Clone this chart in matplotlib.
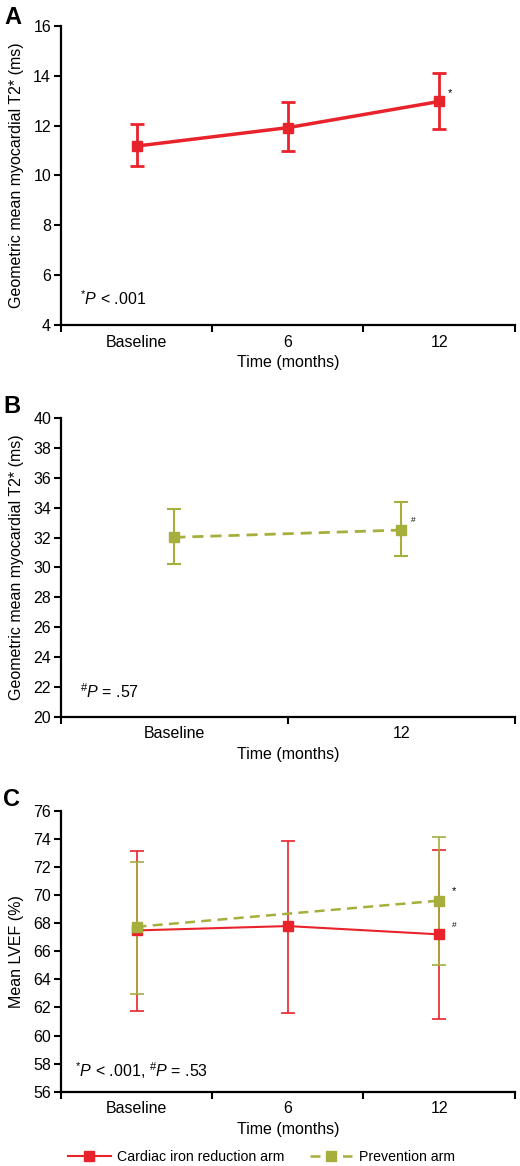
import matplotlib.pyplot as plt
from matplotlib.lines import Line2D
import numpy as np

plt.rcParams['font.family'] = ['Liberation Sans', 'DejaVu Sans']
plt.rcParams['mathtext.fontset'] = 'custom'
plt.rcParams['mathtext.rm'] = 'Liberation Sans'
plt.rcParams['mathtext.it'] = 'Liberation Sans:italic'

RED = '#e8232b'
GREEN = '#a6ae3c'
FS = 11.5

# Panel A: cardiac iron reduction arm, T2*
a_labels = ['Baseline', '6', '12']
a_mean = [11.18, 11.92, 12.97]
a_low = [10.38, 10.98, 11.86]
a_high = [12.05, 12.93, 14.13]

# Panel B: prevention arm, T2*
b_labels = ['Baseline', '12']
b_mean = [32.02, 32.51]
b_low = [30.26, 30.75]
b_high = [33.92, 34.41]

# Panel C: LVEF, both arms
c_labels = ['Baseline', '6', '12']
c_red_mean = [67.48, 67.79, 67.20]
c_red_low = [61.72, 61.60, 61.15]
c_red_high = [73.15, 73.86, 73.20]
c_green_x = [0, 2]
c_green_mean = [67.74, 69.60]
c_green_low = [62.95, 65.04]
c_green_high = [72.35, 74.10]

DASH = (0, (4, 2.5))


def style_axes(ax, labels, ylim, yticks, ylabel):
    n = len(labels)
    ax.set_xlim(0, n)
    ax.set_ylim(*ylim)
    ax.set_xticks(np.arange(n + 1))
    ax.set_xticklabels([])
    ax.set_xticks(np.arange(n) + 0.5, minor=True)
    ax.set_xticklabels(labels, minor=True)
    ax.tick_params(axis='x', which='major', direction='out', length=5, width=1.5)
    ax.tick_params(axis='x', which='minor', length=0, pad=7, labelsize=FS)
    ax.set_yticks(yticks)
    ax.tick_params(axis='y', direction='out', length=5, width=1.5, pad=2, labelsize=FS)
    for s in ['top', 'right']:
        ax.spines[s].set_visible(False)
    for s in ['left', 'bottom']:
        ax.spines[s].set_linewidth(1.6)
    ax.set_xlabel('Time (months)', fontsize=FS, labelpad=4)
    ax.set_ylabel(ylabel, fontsize=FS, labelpad=7)


def yerr(mean, low, high):
    m = np.array(mean)
    return [m - np.array(low), np.array(high) - m]


fig = plt.figure(figsize=(5.2, 11.66), dpi=100)
axA = fig.add_axes([0.117, 0.7213, 0.873, 0.2564])
axB = fig.add_axes([0.117, 0.3853, 0.873, 0.2560])
axC = fig.add_axes([0.117, 0.0637, 0.873, 0.2410])

# Panel A
xa = np.arange(len(a_labels)) + 0.5
axA.errorbar(xa, a_mean, yerr=yerr(a_mean, a_low, a_high), color=RED, lw=2.5,
             marker='s', ms=7, elinewidth=2, capsize=5, capthick=2)
style_axes(axA, a_labels, (4, 16), np.arange(4, 17, 2),
           'Geometric mean myocardial T2* (ms)')
axA.annotate('*', (xa[2], a_mean[2]), xytext=(6, 4), textcoords='offset points',
             fontsize=8)
axA.text(0.042, 0.087, r'$^{*}\mathit{P}$ < .001', transform=axA.transAxes,
         fontsize=FS, va='center')

# Panel B
xb = np.arange(len(b_labels)) + 0.5
axB.errorbar(xb, b_mean, yerr=yerr(b_mean, b_low, b_high), color=GREEN, lw=2,
             ls=DASH, marker='s', ms=7, elinewidth=1.5, capsize=5, capthick=1.5)
style_axes(axB, b_labels, (20, 40), np.arange(20, 41, 2),
           'Geometric mean myocardial T2* (ms)')
axB.annotate('#', (xb[1], b_mean[1]), xytext=(7, 6), textcoords='offset points',
             fontsize=6)
axB.text(0.042, 0.084, r'$^{\#}\mathit{P}$ = .57', transform=axB.transAxes,
         fontsize=FS, va='center')

# Panel C
xc = np.arange(len(c_labels)) + 0.5
xg = np.array(c_green_x) + 0.5
axC.errorbar(xc, c_red_mean, yerr=yerr(c_red_mean, c_red_low, c_red_high),
             color=RED, lw=1.5, marker='s', ms=7, elinewidth=1.2, capsize=5,
             capthick=1.2)
axC.errorbar(xg, c_green_mean, yerr=yerr(c_green_mean, c_green_low, c_green_high),
             color=GREEN, lw=1.8, ls=DASH, marker='s', ms=7,
             elinewidth=1.2, capsize=5, capthick=1.2)
style_axes(axC, c_labels, (56, 76), np.arange(56, 77, 2), 'Mean LVEF (%)')
axC.annotate('*', (xg[1], c_green_mean[1]), xytext=(9, 5),
             textcoords='offset points', fontsize=8)
axC.annotate('#', (xc[2], c_red_mean[2]), xytext=(9, 5),
             textcoords='offset points', fontsize=6)
axC.text(0.031, 0.074, r'$^{*}\mathit{P}$ < .001, $^{\#}\mathit{P}$ = .53',
         transform=axC.transAxes, fontsize=FS, va='center')

handles = [Line2D([], [], color=RED, lw=1.5, marker='s', ms=7),
           Line2D([], [], color=GREEN, lw=1.8, ls=DASH, marker='s', ms=7)]
labels = ['Cardiac iron reduction arm', 'Prevention arm']
fig.legend(handles, labels, loc='center', bbox_to_anchor=(0.503, 0.0077), ncol=2,
           frameon=False, fontsize=10.2, handlelength=3.0, columnspacing=1.8,
           handletextpad=0.45)

fig.text(0.008, 0.985, 'A', fontsize=17, fontweight='bold', va='center')
fig.text(0.006, 0.651, 'B', fontsize=17, fontweight='bold', va='center')
fig.text(0.006, 0.314, 'C', fontsize=17, fontweight='bold', va='center')

fig.savefig('out.png', dpi=100)
